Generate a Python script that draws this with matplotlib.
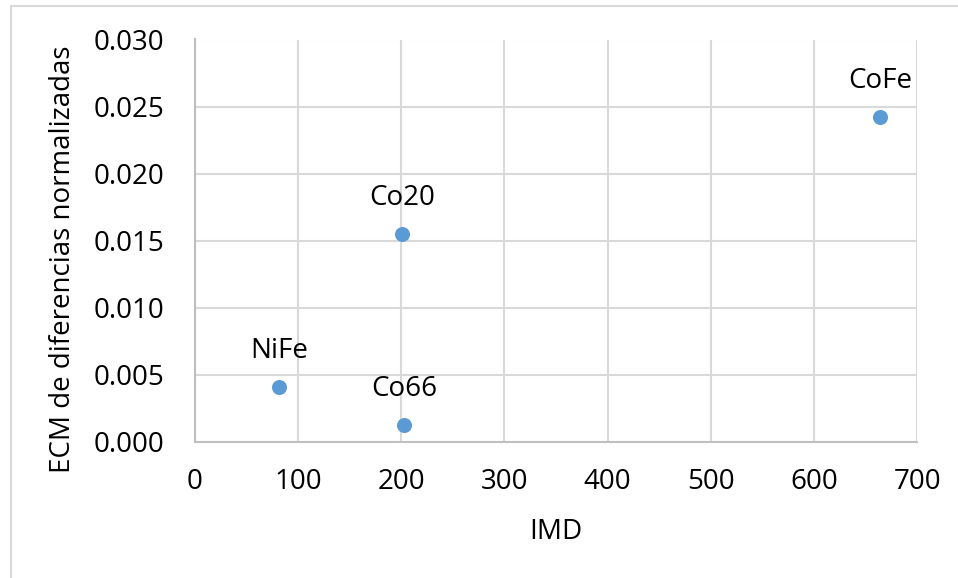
import matplotlib.pyplot as plt
from matplotlib.patches import Rectangle

# Sample data
names = ["NiFe", "Co20", "Co66", "CoFe"]
imd = [82.2, 200.8, 203.0, 664.2]
ecm = [0.00408, 0.01548, 0.00122, 0.02425]

x_ticks = [0, 100, 200, 300, 400, 500, 600, 700]
y_ticks = [0.000, 0.005, 0.010, 0.015, 0.020, 0.025, 0.030]

plt.rcParams["font.family"] = ["Open Sans", "DejaVu Sans"]

W, H = 958, 578
fig = plt.figure(figsize=(W / 100, H / 100), dpi=100)

# Chart border (only top and left edges fall inside the canvas)
fig.patches.append(
    Rectangle((11 / W, -0.1), 1.2, 1.1 - 6 / H, transform=fig.transFigure,
              fill=False, edgecolor="#D9D9D9", linewidth=1.5)
)

ax = fig.add_axes([194.5 / W, (H - 441.7) / H, (917.3 - 194.5) / W, (441.7 - 39.5) / H])

ax.scatter(imd, ecm, s=15 ** 2 * 0.52, color="#5B9BD5", zorder=3, linewidths=0)
for name, x, y in zip(names, imd, ecm):
    ax.annotate(name, (x, y), xytext=(0, 36), textcoords="offset pixels",
                ha="center", va="center", fontsize=20, color="black")

ax.set_xlim(0, 700)
ax.set_ylim(0, 0.030)
ax.set_xticks(x_ticks)
ax.set_yticks(y_ticks)
ax.set_yticklabels([f"{v:.3f}" for v in y_ticks])
ax.tick_params(length=0, labelsize=20, colors="black")
ax.tick_params(axis="y", pad=22)
ax.tick_params(axis="x", pad=19)

ax.grid(True, color="#D9D9D9", linewidth=1.5)
ax.set_axisbelow(True)
for side in ["top", "right"]:
    ax.spines[side].set_visible(False)
for side in ["left", "bottom"]:
    ax.spines[side].set_color("#BFBFBF")
    ax.spines[side].set_linewidth(1.5)

ax.set_xlabel("IMD", fontsize=20, labelpad=16)
ax.set_ylabel("ECM de diferencias normalizadas", fontsize=20)
ax.yaxis.set_label_coords(-0.163, 0.454)

fig.savefig("out.png", dpi=100)
